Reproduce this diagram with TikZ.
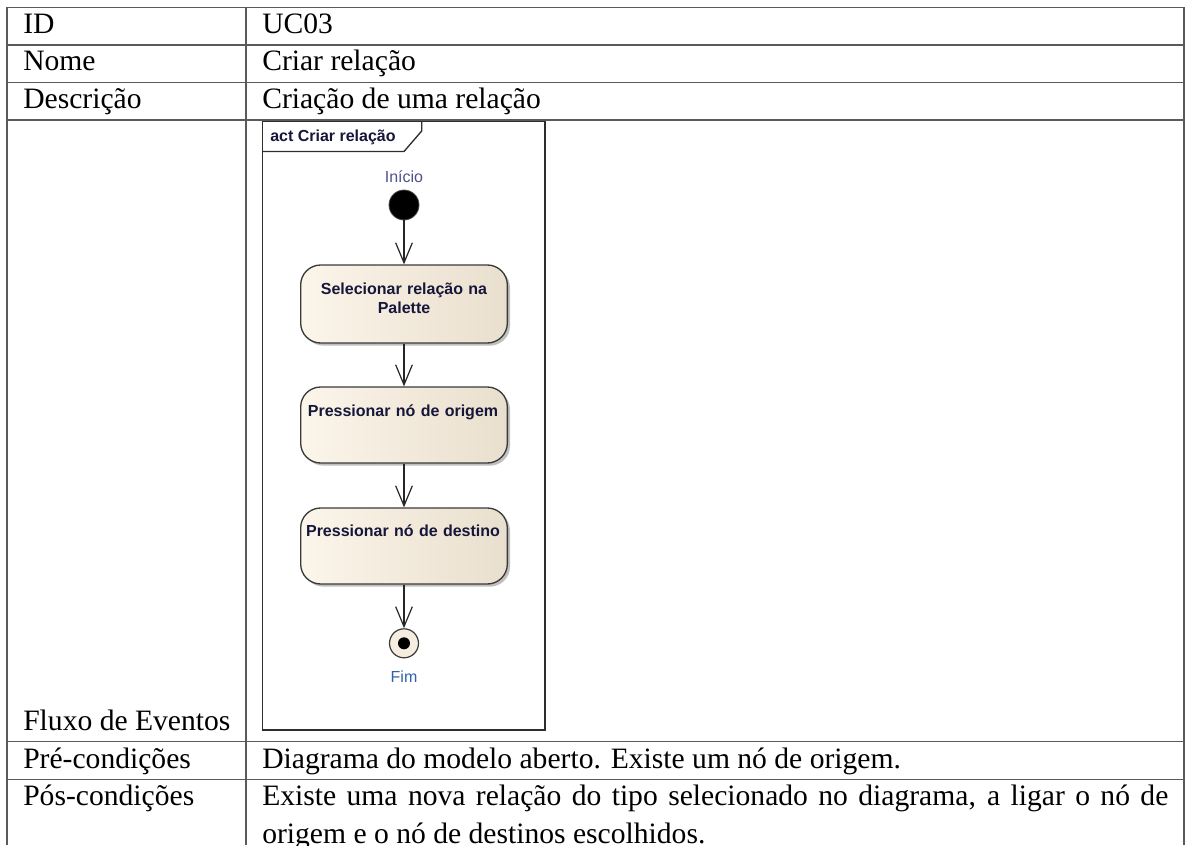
\documentclass[tikz,border=0pt]{standalone}
\usepackage{fontspec}
\setmainfont{Liberation Serif}
\newfontfamily\diagfont{Liberation Sans}
\usetikzlibrary{arrows.meta,shadows}

\definecolor{rulegray}{HTML}{5A5A5A}
\definecolor{frameline}{HTML}{2E2E2E}
\definecolor{actlight}{HTML}{FCF5EA}
\definecolor{actdark}{HTML}{E9DFCE}
\definecolor{actborder}{HTML}{3A3A3A}
\definecolor{acttext}{HTML}{16163A}
\definecolor{startcol}{HTML}{50508C}
\definecolor{endcol}{HTML}{2F62A8}
\definecolor{finalfill}{HTML}{F4EDE0}

\begin{document}
\begin{tikzpicture}[x=0.75pt,y=-0.75pt,
  cell/.style={anchor=base west, inner sep=0pt, font=\fontsize{22.2}{28.1}\selectfont},
  rowline/.style={draw=rulegray, line width=1pt},
  action/.style={draw=actborder, line width=1pt, rounded corners=15pt,
    left color=actlight, right color=actdark, minimum width=155pt,
    drop shadow={shadow xshift=2pt, shadow yshift=-2pt, fill=black, opacity=0.25}},
  actlabel/.style={anchor=base, inner sep=0pt, text width=150pt, align=center,
    text=acttext, font=\diagfont\bfseries\fontsize{12}{14.55}\selectfont},
  smalllabel/.style={inner sep=0pt, font=\diagfont\fontsize{12}{14}\selectfont},
  flow/.style={draw=black!85, line width=0.9pt,
    -{Straight Barb[length=15pt, width=12.5pt, line width=0.9pt]}},
  ]
\useasboundingbox (0,0) rectangle (1187,845);

% table grid
\draw[rowline] (7,7.5) -- (1184,7.5);
\draw[rowline] (7,45) -- (1184,45);
\draw[rowline] (7,82.5) -- (1184,82.5);
\draw[rowline] (7,120) -- (1184,120);
\draw[rowline] (7,741.7) -- (1184,741.7);
\draw[rowline] (7,779.2) -- (1184,779.2);
\draw[rowline] (7,7.5) -- (7,845);
\draw[rowline] (246,7.5) -- (246,845);
\draw[rowline] (1184,7.5) -- (1184,845);

% table cells
\node[cell] (kid)   at (23,33.5)  {ID};
\node[cell] (vid)   at (262,33.5) {UC03};
\node[cell] (kname) at (23,71)    {Nome};
\node[cell] (vname) at (262,71)   {Criar relação};
\node[cell] (kdesc) at (23,108.5) {Descrição};
\node[cell] (vdesc) at (262,108.5) {Criação de uma relação};
\node[cell] (kflow) at (23,730.4) {Fluxo de Eventos};
\node[cell] (kpre)  at (23,768)   {Pré-condições};
\node[cell] (vpre)  at (262,768)  {Diagrama do modelo aberto. Existe um nó de origem.};
\node[cell] (kpos)  at (23,805.5) {Pós-condições};
\node[cell] (vpos)  at (262,805.5) {\makebox[679.5pt][s]{Existe uma nova relação do tipo selecionado no diagrama, a ligar o nó de}};
\node[cell] (vpos2) at (262,843)  {origem e o nó de destinos escolhidos.};

% activity diagram frame
\draw[frameline, line width=1.1pt] (262.5,121.5) rectangle (545,730);
\draw[frameline, line width=1pt] (262.5,151.5) -- (404,151.5) -- (421.7,131) -- (421.7,121.5);
\node[anchor=base west, inner sep=0pt, text=acttext,
  font=\diagfont\bfseries\fontsize{12}{14}\selectfont] (acttitle) at (270,141.7) {act Criar relação};

% start node
\node[smalllabel, text=startcol] (startname) at (404,176.7) {Início};
\node[circle, fill=black, draw=black!70, line width=0.6pt, minimum size=22.5pt, inner sep=0pt] (start) at (404,205) {};

% actions
\node[action, minimum height=58.5pt] (a1) at (404,304) {};
\node[actlabel] (a1t) at (404,294) {Selecionar relação na\\Palette};
\node[action, minimum height=57pt] (a2) at (404,425) {};
\node[actlabel] (a2t) at (403,416) {Pressionar nó de origem};
\node[action, minimum height=57pt] (a3) at (404,546) {};
\node[actlabel] (a3t) at (403,536.5) {Pressionar nó de destino};

% final node
\node[circle, draw=actborder, fill=finalfill, line width=0.9pt, minimum size=21.75pt, inner sep=0pt] (stop) at (404,643.3) {};
\node[circle, fill=black, minimum size=9pt, inner sep=0pt] (stopdot) at (stop) {};
\node[smalllabel, text=endcol] (stopname) at (404,676.7) {Fim};

% control flows
\draw[flow] (start) -- (a1);
\draw[flow] (a1) -- (a2);
\draw[flow] (a2) -- (a3);
\draw[flow] (a3) -- (stop);
\end{tikzpicture}
\end{document}
